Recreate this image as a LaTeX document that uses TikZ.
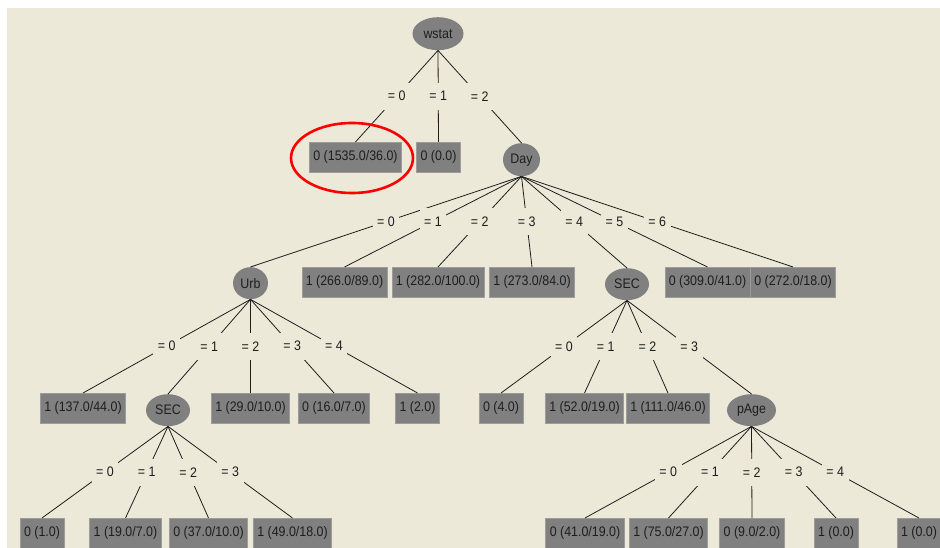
\documentclass[tikz,border=0pt]{standalone}
\usepackage{fontspec}
\setmainfont[FakeStretch=0.9]{Liberation Sans}
\usetikzlibrary{shapes.geometric}
\definecolor{panel}{HTML}{ECE9D8}
\definecolor{nodegray}{HTML}{808080}
\definecolor{edgegray}{HTML}{9C9C9C}
\definecolor{ink}{HTML}{1E1E1E}
\tikzset{
  every node/.style={font=\fontsize{13.8}{15}\selectfont, text=ink},
  attr/.style={ellipse, fill=nodegray, inner sep=0pt, minimum height=32pt, anchor=north},
  leaf/.style={rectangle, fill=nodegray, draw=edgegray, line width=0.6pt,
               inner xsep=4pt, inner ysep=0pt, minimum height=30pt, anchor=north},
  branch/.style={draw=ink, line width=0.8pt},
  val/.style={fill=panel, inner xsep=4.5pt, inner ysep=0pt, minimum height=27pt},
  highlight/.style={draw=red, line width=2.6pt}
}
\begin{document}
\begin{tikzpicture}[x=1pt, y=1pt]
\useasboundingbox (0,0) rectangle (940,-548);
% window area
\fill[white] (0,0) rectangle (940,-548);
\fill[panel] (7,-8) rectangle (941,-549);

% level 0
\node[attr, minimum width=51pt, minimum height=33pt] (wstat) at (438,-17) {wstat};

% level 1
\node[leaf] (a0) at (355.5,-142) {0 (1535.0/36.0)};
\node[leaf] (a1) at (438.5,-142) {0 (0.0)};
\node[attr, minimum width=37pt, minimum height=33pt] (day) at (521.5,-143) {Day};

% level 2
\node[attr, minimum width=35pt] (urb) at (250.5,-267) {Urb};
\node[leaf] (b1) at (344.5,-267) {1 (266.0/89.0)};
\node[leaf] (b2) at (438,-267) {1 (282.0/100.0)};
\node[leaf] (b3) at (532,-267) {1 (273.0/84.0)};
\node[attr, minimum width=44pt] (secA) at (627,-268) {SEC};
\node[leaf] (b5) at (707.5,-267) {0 (309.0/41.0)};
\node[leaf] (b6) at (793,-267) {0 (272.0/18.0)};

% level 3
\node[leaf] (c0) at (83,-393) {1 (137.0/44.0)};
\node[attr, minimum width=44pt] (secB) at (168,-394) {SEC};
\node[leaf] (c2) at (250.5,-393) {1 (29.0/10.0)};
\node[leaf] (c3) at (334,-393) {0 (16.0/7.0)};
\node[leaf] (c4) at (417.5,-393) {1 (2.0)};
\node[leaf] (d0) at (501,-393) {0 (4.0)};
\node[leaf] (d1) at (584.5,-393) {1 (52.0/19.0)};
\node[leaf] (d2) at (668,-393) {1 (111.0/46.0)};
\node[attr, minimum width=49pt] (page) at (751.5,-394) {pAge};

% level 4
\node[leaf] (e0) at (42,-518) {0 (1.0)};
\node[leaf] (e1) at (125.5,-518) {1 (19.0/7.0)};
\node[leaf] (e2) at (208.5,-518) {0 (37.0/10.0)};
\node[leaf] (e3) at (292.5,-518) {1 (49.0/18.0)};
\node[leaf] (f0) at (585,-518) {0 (41.0/19.0)};
\node[leaf] (f1) at (668.5,-518) {1 (75.0/27.0)};
\node[leaf] (f2) at (752,-518) {0 (9.0/2.0)};
\node[leaf] (f3) at (836,-518) {1 (0.0)};
\node[leaf] (f4) at (919,-518) {1 (0.0)};

% branches with their values
\foreach \p/\c/\v in {wstat/a0/0, wstat/a1/1, wstat/day/2,
    day/urb/0, day/b1/1, day/b2/2, day/b3/3, day/secA/4, day/b5/5, day/b6/6,
    urb/c0/0, urb/secB/1, urb/c2/2, urb/c3/3, urb/c4/4,
    secA/d0/0, secA/d1/1, secA/d2/2, secA/page/3,
    secB/e0/0, secB/e1/1, secB/e2/2, secB/e3/3,
    page/f0/0, page/f1/1, page/f2/2, page/f3/3, page/f4/4}
  \draw[branch] (\p.south) -- node[val] {= \v} (\c.north);

% highlight around the first leaf
\draw[highlight] (352,-158) ellipse [x radius=61, y radius=35];
\end{tikzpicture}
\end{document}
